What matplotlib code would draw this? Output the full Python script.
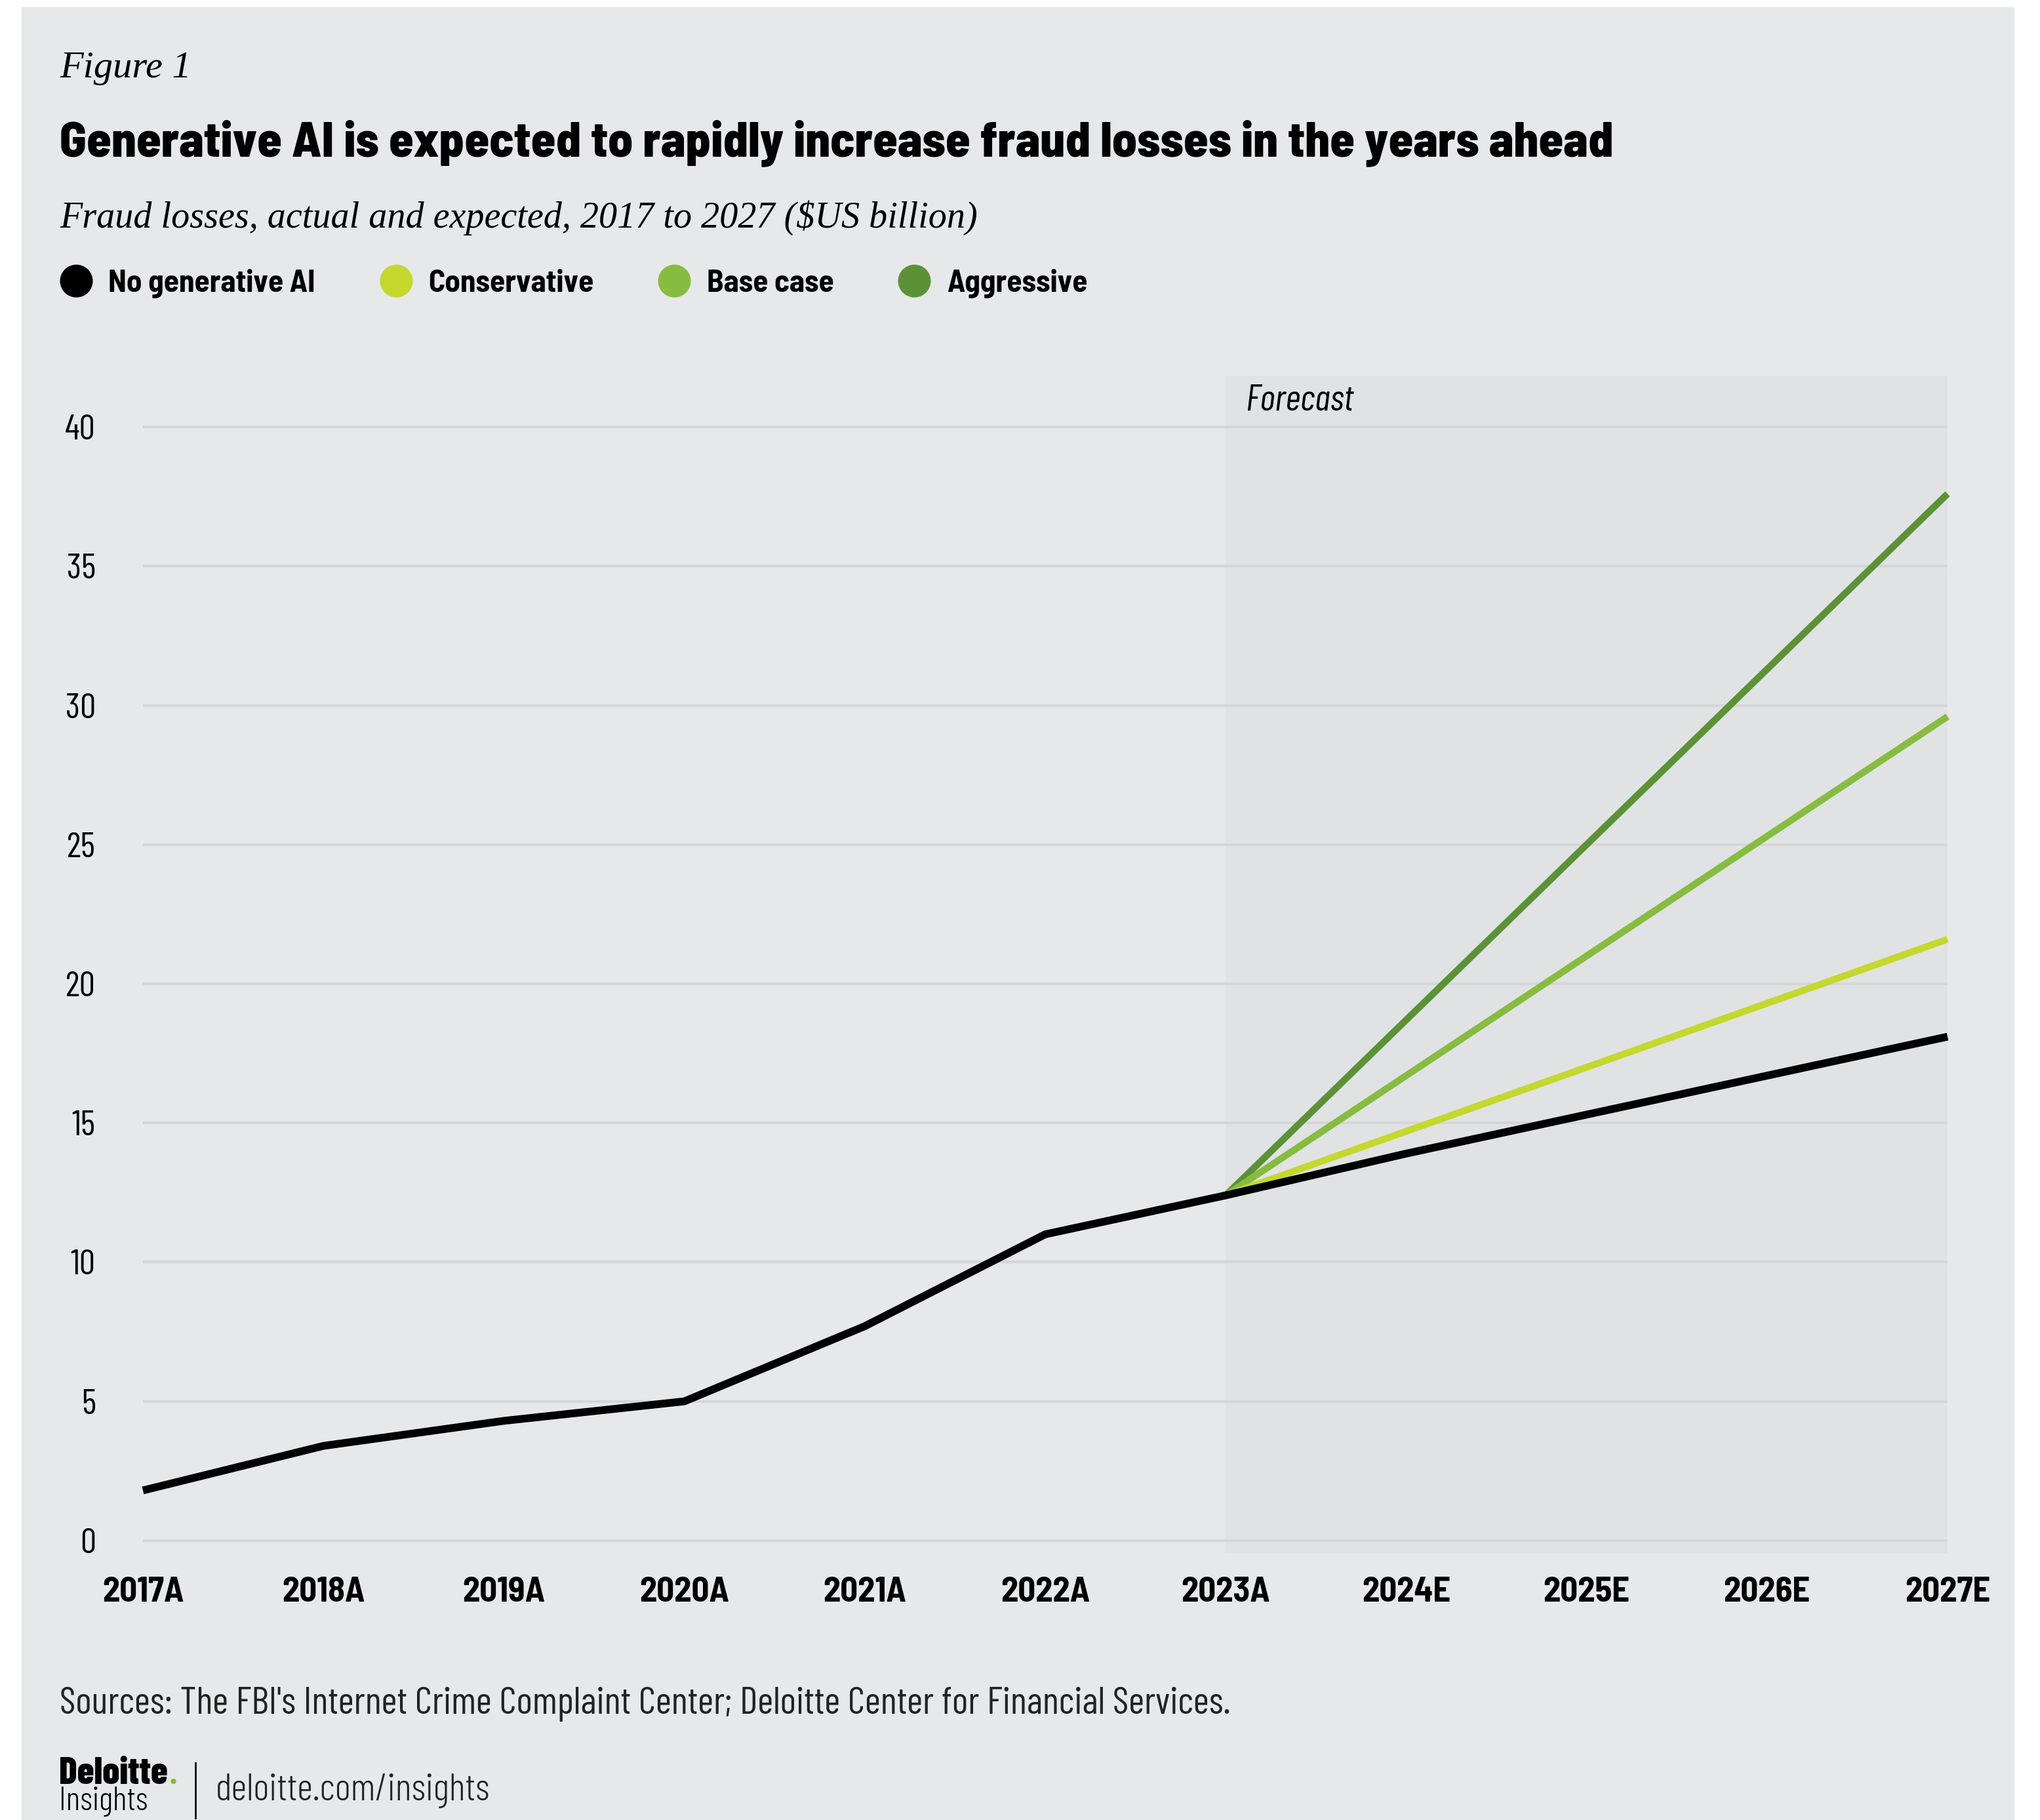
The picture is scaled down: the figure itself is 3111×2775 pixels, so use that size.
import matplotlib
matplotlib.use("Agg")
import matplotlib.pyplot as plt
from matplotlib.lines import Line2D
from matplotlib.patches import Rectangle

# data ($US billion)
years = ['2017A', '2018A', '2019A', '2020A', '2021A', '2022A', '2023A',
         '2024E', '2025E', '2026E', '2027E']
no_ai = [1.8, 3.4, 4.3, 5.0, 7.7, 11.0, 12.4, 13.9, 15.3, 16.7, 18.1]
forecast_years = ['2023A', '2024E', '2025E', '2026E', '2027E']
conservative = [12.4, 14.7, 17.0, 19.3, 21.6]
base_case = [12.4, 16.7, 21.0, 25.3, 29.6]
aggressive = [12.4, 18.7, 25.0, 31.3, 37.6]
yticks = [0, 5, 10, 15, 20, 25, 30, 35, 40]
labels = ['No generative AI', 'Conservative', 'Base case', 'Aggressive']
colors = ['black', '#c4d82e', '#86bc40', '#5b9237']

cond = 'Barlow Condensed'
semi = 'Barlow Semi Condensed'
serif = 'Liberation Serif'

W, H = 3111, 2775
fx = lambda px: px / W
fy = lambda py: 1 - py / H

fig = plt.figure(figsize=(W / 100, H / 100), dpi=100)
fig.patch.set_facecolor('white')
fig.patches.append(Rectangle((fx(33), 0), fx(3071) - fx(33), fy(11),
                             transform=fig.transFigure, color='#e7e8e9', zorder=-10))
renderer = fig.canvas.get_renderer()


def fit_width(txt, target):
    w = txt.get_window_extent(renderer).width
    txt.set_fontsize(txt.get_fontsize() * target / w)


ax = fig.add_axes([fx(218), fy(2368), fx(2970) - fx(218), fy(573) - fy(2368)])
ax.set_facecolor('none')
x = list(range(len(years)))
xf = [years.index(y) for y in forecast_years]

ax.axvspan(xf[0], xf[-1], color='#e1e2e3', zorder=0, lw=0)
for t in yticks:
    ax.axhline(t, color='#d5d6d7', lw=3, zorder=1)

ax.plot(xf, aggressive, color=colors[3], lw=7.5, zorder=3, clip_on=False, solid_capstyle='butt')
ax.plot(xf, base_case, color=colors[2], lw=7.5, zorder=3, clip_on=False, solid_capstyle='butt')
ax.plot(xf, conservative, color=colors[1], lw=7.5, zorder=3, clip_on=False, solid_capstyle='butt')
ax.plot(x, no_ai, color=colors[0], lw=8.5, zorder=4, clip_on=False, solid_capstyle='butt')

ax.set_xlim(0, len(years) - 1)
ax.set_ylim(-0.45, 41.84)
ax.set_yticks(yticks)
ax.set_xticks(x)
ax.set_xticklabels(years, fontfamily=semi, fontweight='bold', fontsize=38)
ax.set_yticklabels([str(t) for t in yticks], fontfamily=cond, fontweight='normal', fontsize=39)
ax.tick_params(axis='y', length=0, pad=52)
ax.tick_params(axis='x', length=0, pad=26)
for s in ax.spines.values():
    s.set_visible(False)

ax.text(xf[0] + 0.11, 40.6, 'Forecast', fontfamily=cond, fontstyle='italic',
        fontsize=41, va='baseline', ha='left')

# header
fig.text(fx(91), fy(118), 'Figure 1', fontfamily=serif, fontstyle='italic', fontsize=42, va='baseline')
title = fig.text(fx(91), fy(238), 'Generative AI is expected to rapidly increase fraud losses in the years ahead',
                 fontfamily=semi, fontweight=800, fontsize=46, va='baseline')
fit_width(title, 2369)
sub = fig.text(fx(91), fy(347), 'Fraud losses, actual and expected, 2017 to 2027 ($US billion)',
               fontfamily=serif, fontstyle='italic', fontsize=40, va='baseline')
fit_width(sub, 1397)

handles = [Line2D([], [], ls='none', marker='o', markersize=35, color=c) for c in colors]
fig.legend(handles, labels, loc='center left', bbox_to_anchor=(fx(92), fy(432)), ncol=4,
           frameon=False, prop={'family': semi, 'weight': 'bold', 'size': 34},
           handletextpad=0.55, columnspacing=2.1, borderaxespad=0, borderpad=0, handlelength=1.0)

# footer
src = fig.text(fx(91), fy(2613), "Sources: The FBI's Internet Crime Complaint Center; Deloitte Center for Financial Services.",
               fontfamily=cond, fontweight='normal', fontsize=34, va='baseline', color='#222222')
fit_width(src, 1786)
logo = fig.text(fx(90), fy(2720), 'Deloitte', fontfamily=cond, fontweight=800, fontsize=34, va='baseline')
fit_width(logo, 166)
fig.text(fx(259), fy(2720), '.', fontfamily=cond, fontweight=800, fontsize=34, va='baseline', color='#86bc25')
ins = fig.text(fx(90), fy(2760), 'Insights', fontfamily=cond, fontweight=300, fontsize=30, va='baseline')
fit_width(ins, 135)
fig.add_artist(Line2D([fx(298), fx(298)], [fy(2688), fy(2772)], color='black', lw=2))
url = fig.text(fx(329), fy(2745), 'deloitte.com/insights', fontfamily=cond, fontweight=300, fontsize=40,
               va='baseline', color='#222222')
fit_width(url, 417)

fig.savefig('out.png', dpi=100)
